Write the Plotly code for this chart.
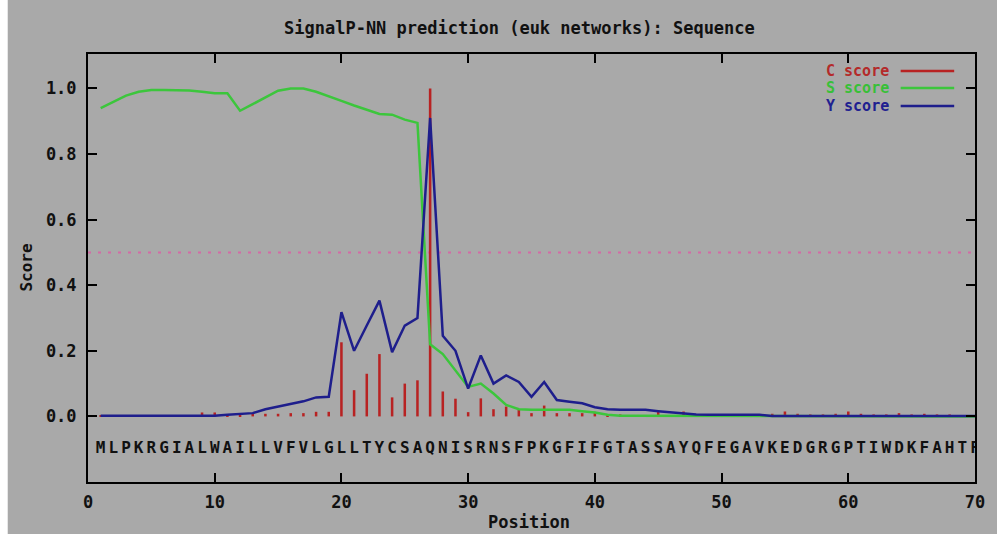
import plotly.graph_objects as go

# ---------------- data ----------------
SEQUENCE = "MLPKRGIALWAILLVFVLGLLTYCSAQNISRNSFPKGFIFGTASSAYQFEGAVKEDGRGPTIWDKFAHTF"
POSITIONS = list(range(1, 71))

C_SCORE = [
    0.003, 0.003, 0.003, 0.003, 0.003, 0.003, 0.003, 0.003, 0.012, 0.012,   # 1-10
    0.004, 0.006, 0.008, 0.008, 0.008, 0.010, 0.010, 0.014, 0.014, 0.226,   # 11-20
    0.080, 0.130, 0.190, 0.058, 0.100, 0.110, 1.000, 0.076, 0.054, 0.013,   # 21-30
    0.055, 0.022, 0.030, 0.020, 0.010, 0.033, 0.010, 0.010, 0.010, 0.014,   # 31-40
    0.004, 0.006, 0.004, 0.004, 0.015, 0.004, 0.015, 0.006, 0.003, 0.003,   # 41-50
    0.003, 0.003, 0.003, 0.008, 0.015, 0.008, 0.006, 0.006, 0.008, 0.015,   # 51-60
    0.008, 0.006, 0.006, 0.010, 0.006, 0.008, 0.006, 0.006, 0.004, 0.004,   # 61-70
]

S_SCORE = [
    0.940, 0.960, 0.978, 0.990, 0.995, 0.995, 0.995, 0.994, 0.990, 0.985,   # 1-10
    0.985, 0.932, 0.952, 0.972, 0.993, 1.000, 1.000, 0.990, 0.977, 0.962,   # 11-20
    0.948, 0.935, 0.922, 0.920, 0.905, 0.895, 0.220, 0.190, 0.140, 0.090,   # 21-30
    0.100, 0.070, 0.035, 0.022, 0.020, 0.020, 0.020, 0.020, 0.016, 0.012,   # 31-40
    0.005, 0.002, 0.002, 0.002, 0.002, 0.002, 0.002, 0.002, 0.002, 0.002,   # 41-50
    0.002, 0.002, 0.002, 0.000, 0.000, 0.000, 0.000, 0.000, 0.000, 0.000,   # 51-60
    0.000, 0.000, 0.000, 0.000, 0.000, 0.000, 0.000, 0.000, 0.000, 0.000,   # 61-70
]

Y_SCORE = [
    0.002, 0.002, 0.002, 0.002, 0.002, 0.002, 0.002, 0.002, 0.002, 0.002,   # 1-10
    0.005, 0.008, 0.010, 0.022, 0.030, 0.038, 0.046, 0.058, 0.060, 0.318,   # 11-20
    0.200, 0.277, 0.353, 0.196, 0.277, 0.300, 0.910, 0.246, 0.200, 0.085,   # 21-30
    0.186, 0.100, 0.125, 0.105, 0.060, 0.105, 0.050, 0.045, 0.040, 0.028,   # 31-40
    0.022, 0.020, 0.020, 0.020, 0.016, 0.012, 0.010, 0.006, 0.005, 0.005,   # 41-50
    0.005, 0.005, 0.005, 0.001, 0.001, 0.001, 0.001, 0.001, 0.001, 0.001,   # 51-60
    0.001, 0.001, 0.001, 0.001, 0.001, 0.001, 0.001, 0.001, 0.001, 0.001,   # 61-70
]

THRESHOLD = 0.5
SEQ_LABEL_Y = -0.1
X_TICKS = [0, 10, 20, 30, 40, 50, 60, 70]
Y_TICKS = [0.0, 0.2, 0.4, 0.6, 0.8, 1.0]
Y_TICK_LABELS = ["0.0", "0.2", "0.4", "0.6", "0.8", "1.0"]
SERIES_NAMES = ["C score", "S score", "Y score"]

TITLE = "SignalP-NN prediction (euk networks): Sequence"
X_TITLE = "Position"
Y_TITLE = "Score"

# ---------------- style ----------------
W, H = 997, 534
ML, MR, MT, MB = 88, 14, 54, 52
PW, PH = W - ML - MR, H - MT - MB
BG = "#a9a9a9"
C_COL = "#b82222"
S_COL = "#3cc63c"
Y_COL = "#1e1e8c"
TXT_C = {"C score": "#b42a2a", "S score": "#38c038", "Y score": "#202090"}
LINE_C = {"C score": C_COL, "S score": S_COL, "Y score": Y_COL}
FONT = "DejaVu Sans Mono"


def pxx(X):
    return (X - ML) / PW


def pxy(Y):
    return (MT + PH - Y) / PH


fig = go.Figure()

fig.add_trace(go.Bar(
    x=POSITIONS, y=C_SCORE, width=0.2, name=SERIES_NAMES[0],
    marker=dict(color=C_COL, line=dict(width=0)), showlegend=False,
))
fig.add_trace(go.Scatter(
    x=POSITIONS, y=S_SCORE, mode="lines", name=SERIES_NAMES[1],
    line=dict(color=S_COL, width=2.5), showlegend=False,
))
fig.add_trace(go.Scatter(
    x=POSITIONS, y=Y_SCORE, mode="lines", name=SERIES_NAMES[2],
    line=dict(color=Y_COL, width=2.5), showlegend=False,
))
fig.add_trace(go.Scatter(
    x=POSITIONS, y=[SEQ_LABEL_Y] * len(POSITIONS), mode="text",
    text=list(SEQUENCE), textposition="middle center",
    textfont=dict(family=FONT, size=16, color="#111111", weight="bold"),
    showlegend=False, hoverinfo="skip",
))

fig.add_hline(y=THRESHOLD, line=dict(color="#d46aa6", width=2, dash="3px,7px"), layer="below")

shapes = []
# white strips at top and left of the picture
shapes.append(dict(type="rect", xref="paper", yref="paper", layer="below",
                   x0=pxx(-5), x1=pxx(W + 5), y0=pxy(9), y1=pxy(-5),
                   fillcolor="white", line=dict(width=0)))
shapes.append(dict(type="rect", xref="paper", yref="paper", layer="below",
                   x0=pxx(-5), x1=pxx(7), y0=pxy(H + 5), y1=pxy(-5),
                   fillcolor="white", line=dict(width=0)))

annotations = []
legend_rows = [71, 88, 106]
for name, ypx in zip(SERIES_NAMES, legend_rows):
    annotations.append(dict(
        text=name, xref="paper", yref="paper", x=pxx(897), y=pxy(ypx),
        xanchor="right", yanchor="middle", showarrow=False,
        font=dict(family=FONT, size=15, color=TXT_C[name], weight="bold"),
        borderpad=0,
    ))
    shapes.append(dict(type="line", xref="paper", yref="paper",
                       x0=pxx(908), x1=pxx(962), y0=pxy(ypx), y1=pxy(ypx),
                       line=dict(color=LINE_C[name], width=2.5)))

annotations.append(dict(
    text=TITLE, xref="paper", yref="paper", x=pxx(523), y=pxy(28),
    xanchor="center", yanchor="middle", showarrow=False,
    font=dict(family=FONT, size=17, color="#111111", weight="bold"),
))
annotations.append(dict(
    text=X_TITLE, xref="paper", yref="paper", x=pxx(533), y=pxy(522),
    xanchor="center", yanchor="middle", showarrow=False,
    font=dict(family=FONT, size=17, color="#111111", weight="bold"),
))
annotations.append(dict(
    text=Y_TITLE, xref="paper", yref="paper", x=pxx(25), y=pxy(268),
    xanchor="center", yanchor="middle", showarrow=False, textangle=-90,
    font=dict(family=FONT, size=16, color="#111111", weight="bold"),
))

axis_common = dict(
    showline=True, linecolor="black", linewidth=2, mirror="ticks",
    ticks="inside", ticklen=9, tickwidth=2, tickcolor="black",
    showgrid=False, zeroline=False,
    tickfont=dict(family=FONT, size=17, color="#111111", weight="bold"),
)

fig.update_layout(
    width=W, height=H,
    margin=dict(l=ML, r=MR, t=MT, b=MB, pad=0),
    paper_bgcolor=BG, plot_bgcolor=BG,
    showlegend=False,
    xaxis=dict(range=[0, 70], tickvals=X_TICKS, ticklabelstandoff=4, **axis_common),
    yaxis=dict(range=[-0.2, 1.105], tickvals=Y_TICKS, ticktext=Y_TICK_LABELS,
               ticklabelstandoff=6, **axis_common),
    shapes=shapes,
    annotations=annotations,
)

fig.write_html("out.html")
